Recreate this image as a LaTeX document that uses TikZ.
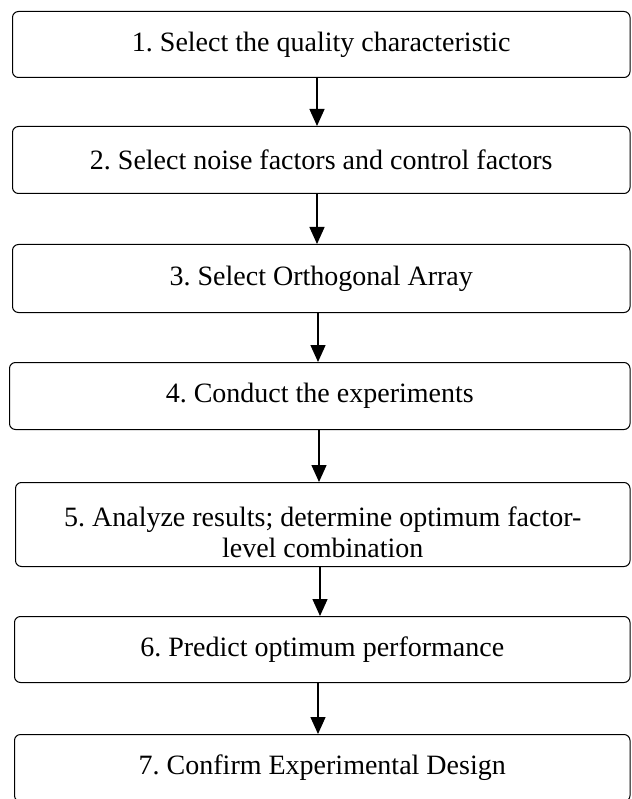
\documentclass[tikz,border=0pt]{standalone}
\usepackage{fontspec}
\setmainfont{Liberation Serif}
\usetikzlibrary{arrows.meta}
\frenchspacing
\begin{document}
\begin{tikzpicture}[x=1pt,y=-1pt,
  stepbox/.style={draw=black, line width=1pt, rounded corners=6pt, fill=white,
    inner sep=0pt, anchor=north west, align=center,
    font=\fontsize{28}{31}\selectfont},
  arr/.style={draw=black, line width=1.4pt, -{Triangle[width=15pt,length=17pt]}}]
\useasboundingbox (0,0) rectangle (631,799);
\fill[white] (0,0) rectangle (631,799);
\clip (0,0) rectangle (631,799);
\node[stepbox, minimum width=617.5pt, minimum height=66pt] (b1) at (12,11) {1. Select the quality characteristic};
\node[stepbox, minimum width=617.5pt, minimum height=67pt] (b2) at (12,126) {2. Select noise factors and control factors};
\node[stepbox, minimum width=617.5pt, minimum height=68pt] (b3) at (12,244) {3. Select Orthogonal Array};
\node[stepbox, minimum width=620.5pt, minimum height=67pt] (b4) at (9,362) {4. Conduct the experiments};
\node[stepbox, minimum width=614.5pt, minimum height=84pt] (b5) at (15,482) {\rule{0pt}{35pt}5. Analyze results; determine optimum factor-\\level combination};
\node[stepbox, minimum width=615.5pt, minimum height=66pt] (b6) at (14,616) {6. Predict optimum performance};
\node[stepbox, minimum width=615.5pt, minimum height=67pt] (b7) at (14,734) {7. Confirm Experimental Design};
\coordinate (a1) at (317,0);
\coordinate (a2) at (317,0);
\coordinate (a3) at (318,0);
\coordinate (a4) at (319,0);
\coordinate (a5) at (320,0);
\coordinate (a6) at (318,0);
\draw[arr] (b1.south -| a1) -- (b2.north -| a1);
\draw[arr] (b2.south -| a2) -- (b3.north -| a2);
\draw[arr] (b3.south -| a3) -- (b4.north -| a3);
\draw[arr] (b4.south -| a4) -- (b5.north -| a4);
\draw[arr] (b5.south -| a5) -- (b6.north -| a5);
\draw[arr] (b6.south -| a6) -- (b7.north -| a6);
\end{tikzpicture}
\end{document}
